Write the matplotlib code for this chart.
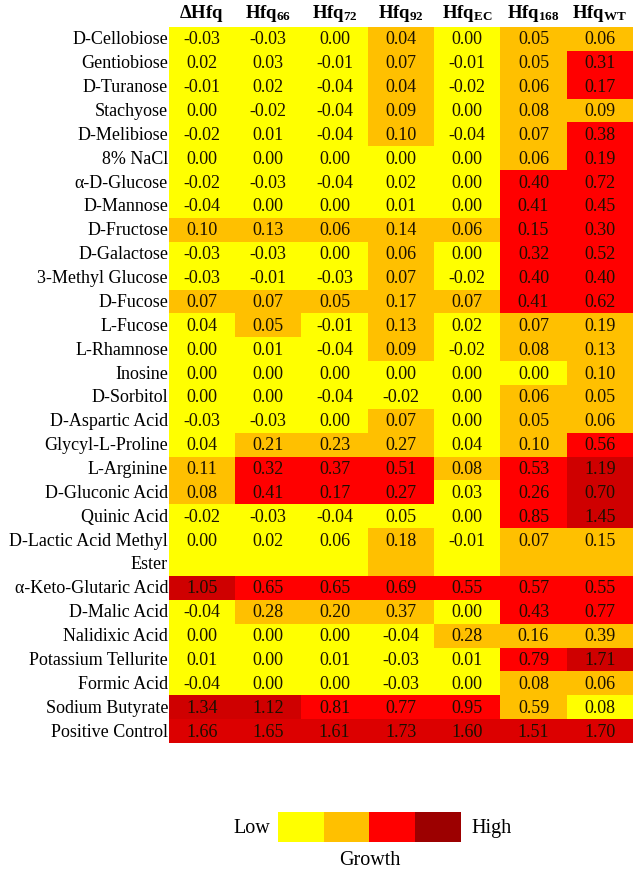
import numpy as np
import matplotlib
matplotlib.use('Agg')
import matplotlib.pyplot as plt
from matplotlib.colors import ListedColormap, BoundaryNorm

plt.rcParams['font.family'] = ['Liberation Serif', 'DejaVu Serif']
plt.rcParams['mathtext.fontset'] = 'custom'
plt.rcParams['mathtext.rm'] = 'Liberation Serif'
plt.rcParams['mathtext.bf'] = 'Liberation Serif:bold'

# column headers (strains)
strains = [r'$\mathbf{\Delta Hfq}$', r'$\mathbf{Hfq_{66}}$', r'$\mathbf{Hfq_{72}}$',
           r'$\mathbf{Hfq_{92}}$', r'$\mathbf{Hfq_{EC}}$', r'$\mathbf{Hfq_{168}}$',
           r'$\mathbf{Hfq_{WT}}$']

# row labels (substrates / conditions)
substrates = ['D-Cellobiose', 'Gentiobiose', 'D-Turanose', 'Stachyose', 'D-Melibiose',
              '8% NaCl', 'α-D-Glucose', 'D-Mannose', 'D-Fructose', 'D-Galactose',
              '3-Methyl Glucose', 'D-Fucose', 'L-Fucose', 'L-Rhamnose', 'Inosine',
              'D-Sorbitol', 'D-Aspartic Acid', 'Glycyl-L-Proline', 'L-Arginine',
              'D-Gluconic Acid', 'Quinic Acid', 'D-Lactic Acid Methyl\nEster',
              'α-Keto-Glutaric Acid', 'D-Malic Acid', 'Nalidixic Acid',
              'Potassium Tellurite', 'Formic Acid', 'Sodium Butyrate', 'Positive Control']

# growth values
values = np.array([
    [-0.03, -0.03, 0.00, 0.04, 0.00, 0.05, 0.06],
    [0.02, 0.03, -0.01, 0.07, -0.01, 0.05, 0.31],
    [-0.01, 0.02, -0.04, 0.04, -0.02, 0.06, 0.17],
    [0.00, -0.02, -0.04, 0.09, 0.00, 0.08, 0.09],
    [-0.02, 0.01, -0.04, 0.10, -0.04, 0.07, 0.38],
    [0.00, 0.00, 0.00, 0.00, 0.00, 0.06, 0.19],
    [-0.02, -0.03, -0.04, 0.02, 0.00, 0.40, 0.72],
    [-0.04, 0.00, 0.00, 0.01, 0.00, 0.41, 0.45],
    [0.10, 0.13, 0.06, 0.14, 0.06, 0.15, 0.30],
    [-0.03, -0.03, 0.00, 0.06, 0.00, 0.32, 0.52],
    [-0.03, -0.01, -0.03, 0.07, -0.02, 0.40, 0.40],
    [0.07, 0.07, 0.05, 0.17, 0.07, 0.41, 0.62],
    [0.04, 0.05, -0.01, 0.13, 0.02, 0.07, 0.19],
    [0.00, 0.01, -0.04, 0.09, -0.02, 0.08, 0.13],
    [0.00, 0.00, 0.00, 0.00, 0.00, 0.00, 0.10],
    [0.00, 0.00, -0.04, -0.02, 0.00, 0.06, 0.05],
    [-0.03, -0.03, 0.00, 0.07, 0.00, 0.05, 0.06],
    [0.04, 0.21, 0.23, 0.27, 0.04, 0.10, 0.56],
    [0.11, 0.32, 0.37, 0.51, 0.08, 0.53, 1.19],
    [0.08, 0.41, 0.17, 0.27, 0.03, 0.26, 0.70],
    [-0.02, -0.03, -0.04, 0.05, 0.00, 0.85, 1.45],
    [0.00, 0.02, 0.06, 0.18, -0.01, 0.07, 0.15],
    [1.05, 0.65, 0.65, 0.69, 0.55, 0.57, 0.55],
    [-0.04, 0.28, 0.20, 0.37, 0.00, 0.43, 0.77],
    [0.00, 0.00, 0.00, -0.04, 0.28, 0.16, 0.39],
    [0.01, 0.00, 0.01, -0.03, 0.01, 0.79, 1.71],
    [-0.04, 0.00, 0.00, -0.03, 0.00, 0.08, 0.06],
    [1.34, 1.12, 0.81, 0.77, 0.95, 0.59, 0.08],
    [1.66, 1.65, 1.61, 1.73, 1.60, 1.51, 1.70],
])

# growth class of each cell as coloured in the figure
# 0 low, 1 weak, 2 good, 3 high, 4 positive control
levels = np.array([
    [0, 0, 0, 1, 0, 1, 1],
    [0, 0, 0, 1, 0, 1, 2],
    [0, 0, 0, 1, 0, 1, 2],
    [0, 0, 0, 1, 0, 1, 1],
    [0, 0, 0, 1, 0, 1, 2],
    [0, 0, 0, 0, 0, 1, 2],
    [0, 0, 0, 0, 0, 2, 2],
    [0, 0, 0, 0, 0, 2, 2],
    [1, 1, 1, 1, 1, 2, 2],
    [0, 0, 0, 1, 0, 2, 2],
    [0, 0, 0, 1, 0, 2, 2],
    [1, 1, 1, 1, 1, 2, 2],
    [0, 1, 0, 1, 0, 1, 1],
    [0, 0, 0, 1, 0, 1, 1],
    [0, 0, 0, 0, 0, 0, 1],
    [0, 0, 0, 0, 0, 1, 1],
    [0, 0, 0, 1, 0, 1, 1],
    [0, 1, 1, 1, 0, 1, 2],
    [1, 2, 2, 2, 1, 2, 3],
    [1, 2, 2, 2, 0, 2, 3],
    [0, 0, 0, 0, 0, 2, 3],
    [0, 0, 0, 1, 0, 1, 1],
    [3, 2, 2, 2, 2, 2, 2],
    [0, 1, 1, 1, 0, 2, 2],
    [0, 0, 0, 0, 1, 1, 1],
    [0, 0, 0, 0, 0, 2, 3],
    [0, 0, 0, 0, 0, 1, 1],
    [3, 3, 2, 2, 2, 1, 0],
    [4, 4, 4, 4, 4, 4, 4],
])

cell_colors = ['#FFFF00', '#FFC000', '#FF0000', '#CF0000', '#DC0000']
legend_colors = ['#FFFF00', '#FFC000', '#FF0000', '#9C0000']

fig = plt.figure(figsize=(6.33, 8.70), dpi=100)
ax = fig.add_axes([168.7 / 633, 1 - 744 / 870, 1 - 168.7 / 633, 716 / 870])

# wrapped labels take two row units
heights = np.array([s.count('\n') + 1 for s in substrates])
edges = np.concatenate([[0], np.cumsum(heights)])

cmap = ListedColormap(cell_colors)
norm = BoundaryNorm(np.arange(-0.5, len(cell_colors)), cmap.N)
ax.pcolormesh(np.arange(len(strains) + 1), edges, levels, cmap=cmap, norm=norm)
ax.set_xlim(0, len(strains))
ax.set_ylim(edges[-1], 0)

fs = 13
for i in range(len(substrates)):
    yc = edges[i] + 0.5
    for j in range(len(strains)):
        ax.text(j + 0.5, yc, '%.2f' % values[i, j], ha='center', va='center',
                fontsize=fs, color='#1a1000')
    lines = substrates[i].split('\n')
    for k, line in enumerate(lines):
        ax.text(-0.01, edges[i] + 0.5 + k, line, ha='right', va='center',
                fontsize=fs, color='black')

for j, s in enumerate(strains):
    ax.text(j + 0.5, -0.62, s, ha='center', va='center', fontsize=13.5)

ax.set_xticks([])
ax.set_yticks([])
for sp in ax.spines.values():
    sp.set_visible(False)

# legend bar
lax = fig.add_axes([278 / 633, 1 - 843 / 870, 183 / 633, 30 / 870])
lax.imshow(np.arange(4).reshape(1, -1), cmap=ListedColormap(legend_colors),
           aspect='auto', extent=(0, 4, 0, 1))
lax.set_xticks([])
lax.set_yticks([])
for sp in lax.spines.values():
    sp.set_visible(False)
fig.text(252 / 633, 1 - 829 / 870, 'Low', ha='center', va='center', fontsize=14.5)
fig.text(492 / 633, 1 - 829 / 870, 'High', ha='center', va='center', fontsize=14.5)
fig.text(370 / 633, 1 - 861 / 870, 'Growth', ha='center', va='center', fontsize=14.5)

fig.savefig('out.png', dpi=100)
